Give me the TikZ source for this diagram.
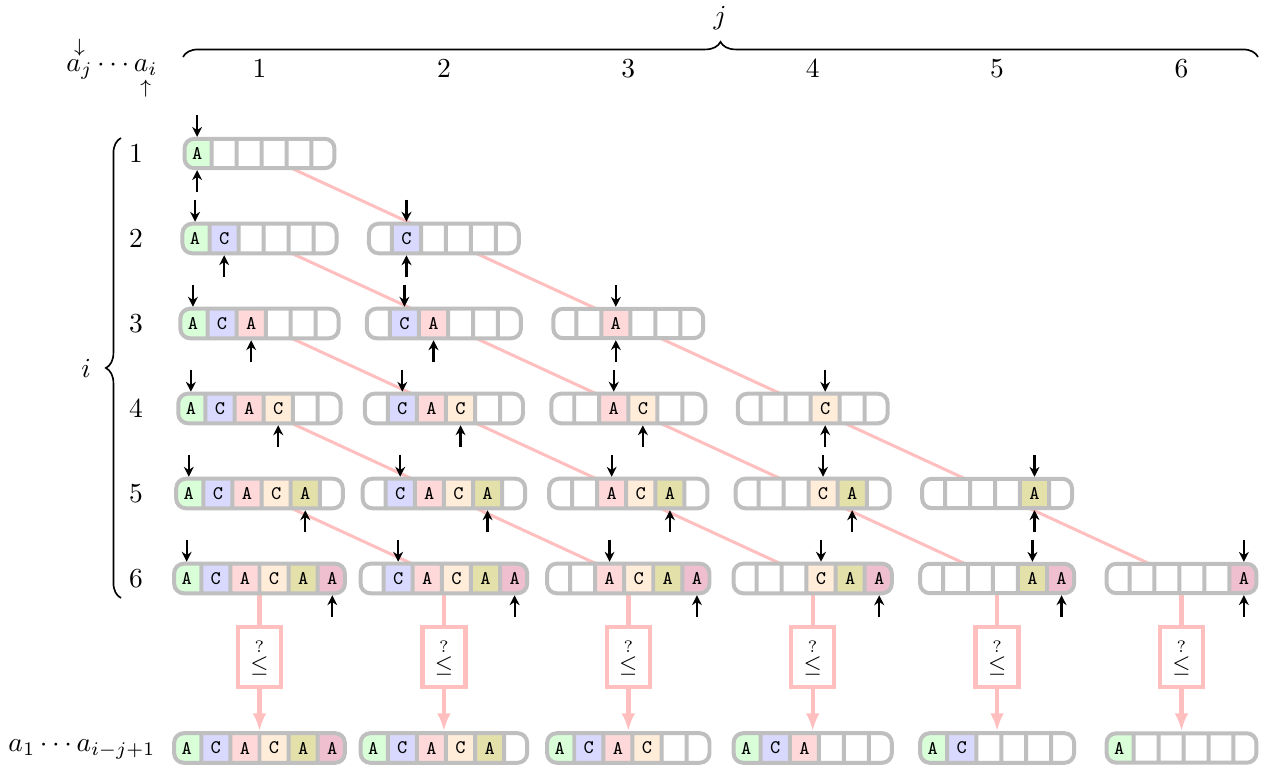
\documentclass[tikz,border=0pt]{standalone}
\usepackage{amsmath}
\usetikzlibrary{arrows.meta,shapes.multipart,backgrounds,decorations.pathreplacing}

\colorlet{cellone}{green!15}
\colorlet{celltwo}{blue!15}
\colorlet{cellthree}{red!15}
\colorlet{cellfour}{orange!15}
\colorlet{cellfive}{olive!25}
\colorlet{cellsix}{purple!25}
\colorlet{tie}{red!25}

% part of the word A C A C A A shown in a strip
\def\firstpos{1}
\def\lastpos{6}
\newcommand\gap{\hbox to 2.2pt{}}
\newcommand\ltr[2]{\vphantom{A}\ifnum#1<\firstpos\space\gap\else\ifnum#1>\lastpos\space\gap\else#2\fi\fi}
\newcommand\tint[2]{\ifnum#1<\firstpos\space white\else\ifnum#1>\lastpos\space white\else#2\fi\fi}
\newcommand\cellname[1]{\ifcase#1\or one\or two\or three\or four\or five\or six\fi}
\newcommand\strip[5]{%
  \def\firstpos{#2}\def\lastpos{#3}%
  \node[strip,rectangle split part fill={\tint1{cellone},\tint2{celltwo},\tint3{cellthree},\tint4{cellfour},\tint5{cellfive},\tint6{cellsix}}]
    (#1) at ({#4},{#5}) {\ltr1A\nodepart{two}\ltr2C\nodepart{three}\ltr3A\nodepart{four}\ltr4C\nodepart{five}\ltr5A\nodepart{six}\ltr6A};%
}

\tikzset{
  strip/.style={rectangle split,rectangle split horizontal,rectangle split parts=6,
    draw=gray!50,line width=1.45pt,rounded corners=3.5pt,
    font=\fontsize{7}{8}\selectfont\ttfamily,inner xsep=2.71pt,inner ysep=3.15pt},
  ptr/.style={->,line width=0.8pt},
  diag/.style={draw=tie,line width=1.1pt},
  vert/.style={draw=tie,line width=1.6pt},
  cmp/.style={draw=tie,line width=1.6pt,fill=white,minimum width=15.6pt,minimum height=22pt,inner sep=0pt,font=\footnotesize},
  brace/.style={decorate,decoration={brace,amplitude=5.5pt},line width=0.6pt}
}

\begin{document}
\begin{tikzpicture}[x=0.3636pt,y=-0.3636pt,>={Stealth[length=3.6pt,width=3.6pt]}]
\useasboundingbox (0,0) rectangle (1266,768);

\node (head) at (112,68) {$\overset{\downarrow}{a_j}\cdots\underset{\uparrow}{a_i}$};
\node (foot) at (82,749) {$a_1\cdots a_{i-j+1}$};
\node (jlab) at (720,18) {$j$};
\node (ilab) at (86,368) {$i$};
\draw[brace] (183,57) -- (1258,57);
\draw[brace] (121,598) -- (121,138);

\foreach \i in {1,...,6}{
  \node (col\i) at ({75.1+184.4*\i},68.5) {$\i$};
  \node (row\i) at (136,{68.5+85*\i}) {$\i$};
}

% the strips a_j..a_i
\foreach \i in {1,...,6}
  \foreach \j in {1,...,\i}{
    \strip{a\i\j}{\j}{\i}{75.1+184.4*\j}{68.5+85*\i}
    \draw[ptr] ([yshift=8pt]a\i\j.\cellname\j\space north) -- (a\i\j.\cellname\j\space north);
    \draw[ptr] ([yshift=-8pt]a\i\j.\cellname\i\space south) -- (a\i\j.\cellname\i\space south);
  }

% comparisons and prefixes
\foreach \j in {1,...,6}{
  \pgfmathtruncatemacro\n{7-\j}
  \strip{b\j}{1}{\n}{75.1+184.4*\j}{748}
  \node[cmp] (c\j) at ({75.1+184.4*\j},657) {$\stackrel{?}{\leq}$};
  \draw[vert,-{Latex[length=6.5pt,width=5pt]}] (c\j) -- (b\j);
}

\begin{scope}[on background layer]
\foreach \i in {1,...,5}
  \foreach \j in {1,...,\i}{
    \pgfmathtruncatemacro\ni{\i+1}
    \pgfmathtruncatemacro\nj{\j+1}
    \draw[diag] (a\i\j.center) -- (a\ni\nj.center);
  }
\foreach \j in {1,...,6}
  \draw[vert] (a6\j.center) -- (c\j);
\end{scope}

\end{tikzpicture}
\end{document}
